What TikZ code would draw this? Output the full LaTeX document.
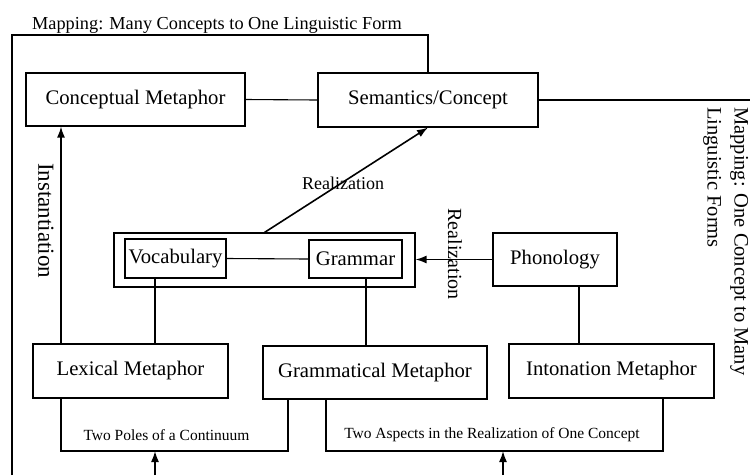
\documentclass[tikz,border=0pt]{standalone}
\usepackage{fontspec}
\setmainfont{Liberation Serif}
\usetikzlibrary{arrows.meta}
\begin{document}
\begin{tikzpicture}[x=1pt,y=-1pt,
  box/.style={draw,line width=1.1pt,inner sep=0pt,font=\fontsize{20.7}{24}\selectfont},
  conn/.style={line width=1.1pt},
  arr/.style={line width=1.6pt,-{Latex[length=11pt,width=8pt]}},
  small/.style={font=\fontsize{15.5}{18}\selectfont,inner sep=0pt},
  lab/.style={inner sep=0pt}]
\useasboundingbox (0,0) rectangle (750,475);
% boxes
\node[box,minimum width=219pt,minimum height=53pt] (cm) at (135.5,99.5) {Conceptual Metaphor};
\node[box,minimum width=220pt,minimum height=54pt] (sem) at (428,100) {Semantics/Concept};
\node[box,minimum width=301pt,minimum height=54pt] (lg) at (264.5,260) {};
\node[box,minimum width=101pt,minimum height=39pt] (voc) at (175.5,258.5) {Vocabulary};
\node[box,minimum width=93pt,minimum height=38pt] (gram) at (355.5,259) {Grammar};
\node[box,minimum width=124pt,minimum height=53pt] (phon) at (555,259.5) {Phonology};
\node[box,minimum width=195pt,minimum height=54pt] (lex) at (130.5,371) {Lexical Metaphor};
\node[box,minimum width=224pt,minimum height=53pt] (gm) at (375,372.5) {Grammatical Metaphor};
\node[box,minimum width=205pt,minimum height=54pt] (im) at (611.5,371) {Intonation Metaphor};
% helper coordinates
\coordinate (xa) at (61,0);
\coordinate (xv) at (155,0);
\coordinate (xg) at (366,0);
\coordinate (xp) at (579,0);
\coordinate (xb1) at (288,0);
\coordinate (xb2) at (326,0);
\coordinate (xb3) at (663,0);
\coordinate (yb) at (0,451);
\coordinate (bl) at (12,475);
\coordinate (tl) at (12,35);
\coordinate (tr) at (428,35);
\coordinate (re) at (750,100);
\coordinate (a1) at (155,475);
\coordinate (a2) at (503,475);
% connectors
\draw[conn] (cm.east) -- (sem.west);
\draw[conn] (voc.east) -- (gram.west);
\draw[conn] (voc.south -| xv) -- (lex.north -| xv);
\draw[conn] (gram.south -| xg) -- (gm.north -| xg);
\draw[conn] (phon.south -| xp) -- (im.north -| xp);
\draw[arr] (lex.north -| xa) -- (cm.south -| xa);
\draw[arr] (lg.north) -- (sem.south);
\draw[arr] (phon.west) -- (phon.west -| lg.east);
\draw[conn] (lex.south -| xa) -- (xa |- yb) -- (xb1 |- yb) -- (gm.south -| xb1);
\draw[conn] (gm.south -| xb2) -- (xb2 |- yb) -- (xb3 |- yb) -- (im.south -| xb3);
\draw[arr] (a1) -- (a1 |- yb);
\draw[arr] (a2) -- (a2 |- yb);
\draw[conn] (bl) -- (tl) -- (tr) -- (sem.north);
\draw[conn] (sem.east) -- (re);
% labels
\node[lab,anchor=base west,font=\fontsize{18.3}{22}\selectfont] (t1) at (32,29) {Mapping: Many Concepts to One Linguistic Form};
\node[lab,rotate=-90,font=\fontsize{23}{26}\selectfont] (inst) at (46,220.5) {Instantiation};
\node[lab,font=\fontsize{18}{21}\selectfont] (r1) at (343,183) {Realization};
\node[lab,rotate=-90,font=\fontsize{20}{23}\selectfont] (r2) at (455,254) {Realization};
\node[small] (p1) at (166.5,435) {Two Poles of a Continuum};
\node[small] (p2) at (492,435) {Two Aspects in the Realization of One Concept};
\node[lab,rotate=-90,anchor=north west,align=left,font=\fontsize{20.5}{27}\selectfont] (mr) at (748.5,107) {Mapping: One Concept to Many\\Linguistic Forms};
\end{tikzpicture}
\end{document}
